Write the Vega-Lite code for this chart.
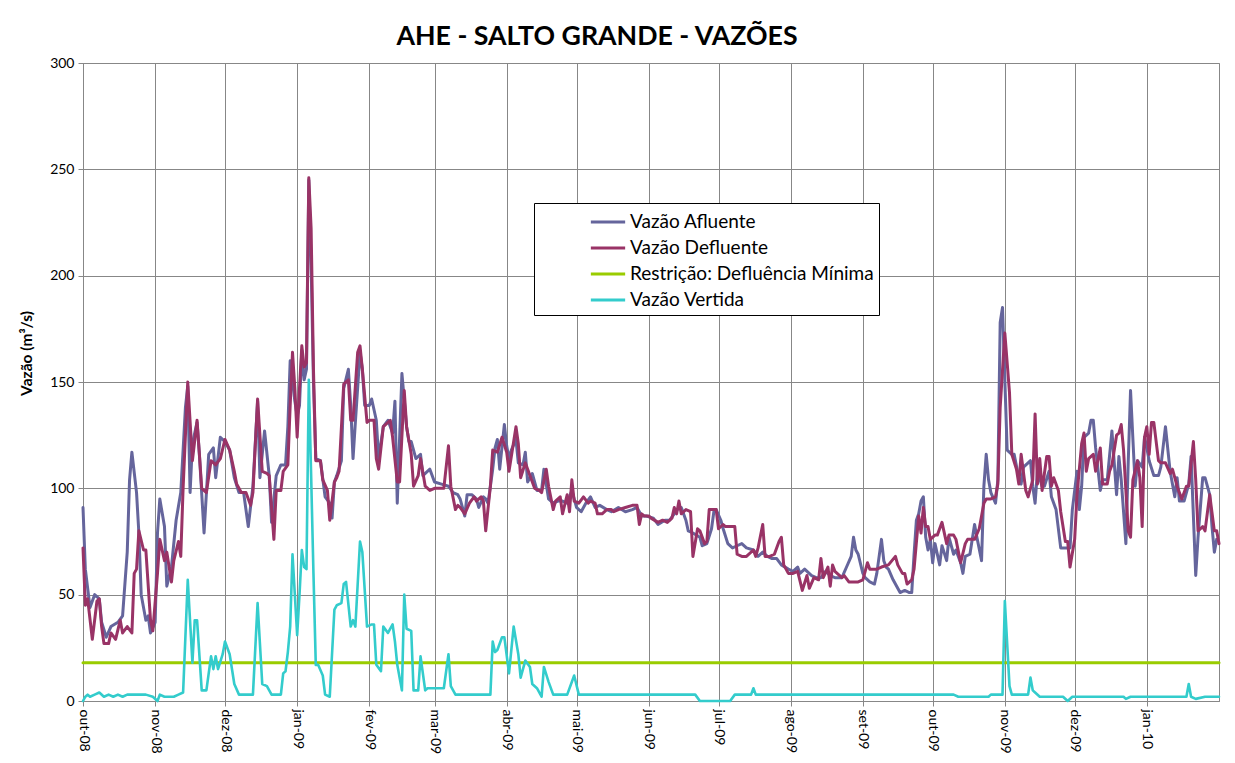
{
"$schema": "https://vega.github.io/schema/vega-lite/v6.json",
"width": 1136, "height": 638,
"autosize": {"type": "none"},
"padding": {"left": 83, "top": 63, "right": 16, "bottom": 62},
"background": "white",
"title": {"text": "AHE - SALTO GRANDE - VAZÕES", "font": "Lato", "fontSize": 26.7, "fontWeight": "bold", "color": "#000", "anchor": "middle", "dx": -54, "offset": 5},
"datasets": {
"rest": [{"d":"2008-10-01","v":18},{"d":"2010-02-01","v":18}],
"afl": [
{"d":"2008-10-01","v":91},{"d":"2008-10-02","v":62},{"d":"2008-10-04","v":44},{"d":"2008-10-06","v":50},{"d":"2008-10-08","v":48},{"d":"2008-10-09","v":37},{"d":"2008-10-11","v":30},{"d":"2008-10-13","v":35},{"d":"2008-10-16","v":37},{"d":"2008-10-18","v":40},{"d":"2008-10-20","v":70},{"d":"2008-10-21","v":104},{"d":"2008-10-22","v":117},{"d":"2008-10-24","v":98},{"d":"2008-10-25","v":79},{"d":"2008-10-26","v":50},{"d":"2008-10-28","v":38},{"d":"2008-10-29","v":40},{"d":"2008-10-30","v":32},
{"d":"2008-11-01","v":37},{"d":"2008-11-02","v":79},{"d":"2008-11-03","v":95},{"d":"2008-11-05","v":82},{"d":"2008-11-06","v":54},{"d":"2008-11-08","v":63},{"d":"2008-11-10","v":85},{"d":"2008-11-12","v":98},{"d":"2008-11-14","v":138},{"d":"2008-11-15","v":148},{"d":"2008-11-16","v":98},{"d":"2008-11-17","v":121},{"d":"2008-11-19","v":131},{"d":"2008-11-20","v":116},{"d":"2008-11-22","v":79},{"d":"2008-11-24","v":116},{"d":"2008-11-26","v":119},{"d":"2008-11-27","v":105},{"d":"2008-11-29","v":124},
{"d":"2008-12-01","v":122},{"d":"2008-12-03","v":118},{"d":"2008-12-05","v":105},{"d":"2008-12-07","v":98},{"d":"2008-12-09","v":98},{"d":"2008-12-11","v":82},{"d":"2008-12-13","v":101},{"d":"2008-12-15","v":141},{"d":"2008-12-16","v":105},{"d":"2008-12-18","v":127},{"d":"2008-12-20","v":106},{"d":"2008-12-21","v":84},{"d":"2008-12-23","v":106},{"d":"2008-12-25","v":111},{"d":"2008-12-27","v":111},{"d":"2008-12-28","v":129},{"d":"2008-12-29","v":160},{"d":"2008-12-31","v":141},
{"d":"2009-01-01","v":134},{"d":"2009-01-02","v":139},{"d":"2009-01-03","v":165},{"d":"2009-01-04","v":151},{"d":"2009-01-05","v":156},{"d":"2009-01-06","v":245},{"d":"2009-01-07","v":205},{"d":"2009-01-08","v":150},{"d":"2009-01-09","v":114},{"d":"2009-01-11","v":113},{"d":"2009-01-13","v":96},{"d":"2009-01-15","v":93},{"d":"2009-01-16","v":86},{"d":"2009-01-17","v":103},{"d":"2009-01-18","v":106},{"d":"2009-01-20","v":113},{"d":"2009-01-21","v":147},{"d":"2009-01-23","v":156},{"d":"2009-01-24","v":139},{"d":"2009-01-25","v":114},{"d":"2009-01-26","v":131},{"d":"2009-01-28","v":164},{"d":"2009-01-29","v":156},{"d":"2009-01-30","v":139},
{"d":"2009-02-01","v":139},{"d":"2009-02-02","v":142},{"d":"2009-02-04","v":132},{"d":"2009-02-05","v":114},{"d":"2009-02-07","v":129},{"d":"2009-02-09","v":132},{"d":"2009-02-11","v":126},{"d":"2009-02-12","v":141},{"d":"2009-02-13","v":93},{"d":"2009-02-15","v":154},{"d":"2009-02-17","v":129},{"d":"2009-02-18","v":122},{"d":"2009-02-19","v":122},{"d":"2009-02-21","v":114},{"d":"2009-02-23","v":116},{"d":"2009-02-24","v":106},{"d":"2009-02-27","v":109},
{"d":"2009-03-01","v":103},{"d":"2009-03-04","v":102},{"d":"2009-03-07","v":101},{"d":"2009-03-09","v":98},{"d":"2009-03-11","v":97},{"d":"2009-03-12","v":95},{"d":"2009-03-14","v":87},{"d":"2009-03-15","v":97},{"d":"2009-03-17","v":97},{"d":"2009-03-19","v":95},{"d":"2009-03-20","v":91},{"d":"2009-03-22","v":96},{"d":"2009-03-23","v":95},{"d":"2009-03-24","v":93},{"d":"2009-03-26","v":109},{"d":"2009-03-27","v":119},{"d":"2009-03-28","v":123},{"d":"2009-03-29","v":109},{"d":"2009-03-31","v":130},
{"d":"2009-04-01","v":120},{"d":"2009-04-02","v":114},{"d":"2009-04-03","v":118},{"d":"2009-04-05","v":123},{"d":"2009-04-06","v":112},{"d":"2009-04-08","v":111},{"d":"2009-04-09","v":117},{"d":"2009-04-10","v":103},{"d":"2009-04-12","v":107},{"d":"2009-04-14","v":99},{"d":"2009-04-16","v":99},{"d":"2009-04-17","v":109},{"d":"2009-04-19","v":95},{"d":"2009-04-21","v":93},{"d":"2009-04-23","v":94},{"d":"2009-04-25","v":94},{"d":"2009-04-27","v":93},{"d":"2009-04-29","v":99},
{"d":"2009-05-01","v":91},{"d":"2009-05-03","v":89},{"d":"2009-05-05","v":93},{"d":"2009-05-07","v":96},{"d":"2009-05-09","v":91},{"d":"2009-05-11","v":92},{"d":"2009-05-14","v":90},{"d":"2009-05-16","v":89},{"d":"2009-05-19","v":91},{"d":"2009-05-22","v":89},{"d":"2009-05-25","v":90},{"d":"2009-05-27","v":91},{"d":"2009-05-29","v":87},{"d":"2009-05-31","v":87},
{"d":"2009-06-03","v":86},{"d":"2009-06-05","v":83},{"d":"2009-06-08","v":85},{"d":"2009-06-10","v":85},{"d":"2009-06-12","v":88},{"d":"2009-06-14","v":91},{"d":"2009-06-15","v":91},{"d":"2009-06-17","v":85},{"d":"2009-06-18","v":80},{"d":"2009-06-20","v":79},{"d":"2009-06-23","v":77},{"d":"2009-06-24","v":73},{"d":"2009-06-26","v":74},{"d":"2009-06-28","v":81},{"d":"2009-06-29","v":89},{"d":"2009-06-30","v":90},
{"d":"2009-07-02","v":85},{"d":"2009-07-03","v":81},{"d":"2009-07-05","v":74},{"d":"2009-07-07","v":72},{"d":"2009-07-09","v":73},{"d":"2009-07-11","v":74},{"d":"2009-07-13","v":72},{"d":"2009-07-16","v":71},{"d":"2009-07-18","v":68},{"d":"2009-07-20","v":70},{"d":"2009-07-22","v":68},{"d":"2009-07-24","v":67},{"d":"2009-07-26","v":67},{"d":"2009-07-28","v":64},{"d":"2009-07-31","v":62},
{"d":"2009-08-02","v":61},{"d":"2009-08-04","v":63},{"d":"2009-08-05","v":60},{"d":"2009-08-07","v":62},{"d":"2009-08-10","v":59},{"d":"2009-08-12","v":58},{"d":"2009-08-14","v":58},{"d":"2009-08-16","v":61},{"d":"2009-08-18","v":59},{"d":"2009-08-20","v":58},{"d":"2009-08-23","v":58},{"d":"2009-08-25","v":63},{"d":"2009-08-27","v":68},{"d":"2009-08-28","v":77},{"d":"2009-08-29","v":71},{"d":"2009-08-30","v":69},
{"d":"2009-09-01","v":60},{"d":"2009-09-02","v":58},{"d":"2009-09-04","v":56},{"d":"2009-09-06","v":55},{"d":"2009-09-07","v":60},{"d":"2009-09-09","v":76},{"d":"2009-09-10","v":66},{"d":"2009-09-11","v":63},{"d":"2009-09-12","v":62},{"d":"2009-09-14","v":57},{"d":"2009-09-15","v":55},{"d":"2009-09-17","v":51},{"d":"2009-09-19","v":52},{"d":"2009-09-21","v":51},{"d":"2009-09-22","v":51},{"d":"2009-09-23","v":69},{"d":"2009-09-24","v":85},{"d":"2009-09-25","v":88},{"d":"2009-09-26","v":94},{"d":"2009-09-27","v":96},{"d":"2009-09-28","v":77},{"d":"2009-09-29","v":71},{"d":"2009-09-30","v":76},
{"d":"2009-10-01","v":65},{"d":"2009-10-02","v":74},{"d":"2009-10-04","v":64},{"d":"2009-10-05","v":73},{"d":"2009-10-07","v":66},{"d":"2009-10-08","v":77},{"d":"2009-10-10","v":69},{"d":"2009-10-11","v":71},{"d":"2009-10-13","v":65},{"d":"2009-10-14","v":60},{"d":"2009-10-15","v":68},{"d":"2009-10-17","v":69},{"d":"2009-10-19","v":83},{"d":"2009-10-20","v":77},{"d":"2009-10-22","v":66},{"d":"2009-10-23","v":101},{"d":"2009-10-24","v":116},{"d":"2009-10-25","v":104},{"d":"2009-10-26","v":98},{"d":"2009-10-28","v":93},{"d":"2009-10-29","v":104},{"d":"2009-10-30","v":178},{"d":"2009-10-31","v":185},
{"d":"2009-11-01","v":151},{"d":"2009-11-02","v":118},{"d":"2009-11-04","v":116},{"d":"2009-11-05","v":116},{"d":"2009-11-07","v":105},{"d":"2009-11-08","v":102},{"d":"2009-11-09","v":110},{"d":"2009-11-11","v":112},{"d":"2009-11-12","v":113},{"d":"2009-11-13","v":101},{"d":"2009-11-14","v":93},{"d":"2009-11-15","v":108},{"d":"2009-11-17","v":101},{"d":"2009-11-18","v":101},{"d":"2009-11-20","v":108},{"d":"2009-11-21","v":96},{"d":"2009-11-23","v":90},{"d":"2009-11-25","v":72},{"d":"2009-11-27","v":72},{"d":"2009-11-29","v":72},{"d":"2009-11-30","v":90},
{"d":"2009-12-02","v":108},{"d":"2009-12-03","v":90},{"d":"2009-12-04","v":101},{"d":"2009-12-05","v":124},{"d":"2009-12-07","v":126},{"d":"2009-12-08","v":132},{"d":"2009-12-09","v":132},{"d":"2009-12-10","v":119},{"d":"2009-12-12","v":99},{"d":"2009-12-13","v":104},{"d":"2009-12-15","v":104},{"d":"2009-12-17","v":127},{"d":"2009-12-18","v":112},{"d":"2009-12-19","v":97},{"d":"2009-12-20","v":115},{"d":"2009-12-21","v":104},{"d":"2009-12-23","v":74},{"d":"2009-12-24","v":112},{"d":"2009-12-25","v":146},{"d":"2009-12-27","v":101},{"d":"2009-12-28","v":113},{"d":"2009-12-30","v":110},{"d":"2009-12-31","v":124},
{"d":"2010-01-01","v":119},{"d":"2010-01-02","v":113},{"d":"2010-01-04","v":106},{"d":"2010-01-06","v":106},{"d":"2010-01-07","v":110},{"d":"2010-01-09","v":129},{"d":"2010-01-11","v":108},{"d":"2010-01-13","v":96},{"d":"2010-01-14","v":105},{"d":"2010-01-15","v":94},{"d":"2010-01-17","v":94},{"d":"2010-01-19","v":102},{"d":"2010-01-20","v":115},{"d":"2010-01-22","v":59},{"d":"2010-01-23","v":77},{"d":"2010-01-25","v":105},{"d":"2010-01-26","v":105},{"d":"2010-01-28","v":97},{"d":"2010-01-29","v":82},{"d":"2010-01-30","v":70},{"d":"2010-01-31","v":76}
],
"def": [
{"d":"2008-10-01","v":72},{"d":"2008-10-02","v":45},{"d":"2008-10-03","v":48},{"d":"2008-10-05","v":29},{"d":"2008-10-07","v":47},{"d":"2008-10-08","v":48},{"d":"2008-10-09","v":35},{"d":"2008-10-10","v":27},{"d":"2008-10-12","v":27},{"d":"2008-10-13","v":32},{"d":"2008-10-15","v":29},{"d":"2008-10-17","v":38},{"d":"2008-10-18","v":32},{"d":"2008-10-20","v":35},{"d":"2008-10-22","v":32},{"d":"2008-10-23","v":60},{"d":"2008-10-24","v":62},{"d":"2008-10-25","v":80},{"d":"2008-10-27","v":71},{"d":"2008-10-28","v":71},{"d":"2008-10-30","v":38},{"d":"2008-10-31","v":33},
{"d":"2008-11-02","v":60},{"d":"2008-11-03","v":76},{"d":"2008-11-05","v":66},{"d":"2008-11-06","v":70},{"d":"2008-11-08","v":56},{"d":"2008-11-09","v":66},{"d":"2008-11-11","v":75},{"d":"2008-11-12","v":68},{"d":"2008-11-13","v":100},{"d":"2008-11-15","v":150},{"d":"2008-11-17","v":113},{"d":"2008-11-19","v":132},{"d":"2008-11-21","v":100},{"d":"2008-11-23","v":98},{"d":"2008-11-25","v":113},{"d":"2008-11-27","v":111},{"d":"2008-11-29","v":114},
{"d":"2008-12-01","v":123},{"d":"2008-12-03","v":118},{"d":"2008-12-05","v":108},{"d":"2008-12-06","v":102},{"d":"2008-12-08","v":98},{"d":"2008-12-10","v":98},{"d":"2008-12-12","v":92},{"d":"2008-12-13","v":98},{"d":"2008-12-15","v":142},{"d":"2008-12-17","v":108},{"d":"2008-12-19","v":107},{"d":"2008-12-20","v":106},{"d":"2008-12-22","v":76},{"d":"2008-12-23","v":99},{"d":"2008-12-25","v":99},{"d":"2008-12-26","v":108},{"d":"2008-12-28","v":111},{"d":"2008-12-29","v":139},{"d":"2008-12-30","v":164},{"d":"2008-12-31","v":147},
{"d":"2009-01-01","v":124},{"d":"2009-01-02","v":147},{"d":"2009-01-03","v":167},{"d":"2009-01-04","v":157},{"d":"2009-01-05","v":159},{"d":"2009-01-06","v":246},{"d":"2009-01-07","v":222},{"d":"2009-01-08","v":156},{"d":"2009-01-09","v":113},{"d":"2009-01-11","v":113},{"d":"2009-01-12","v":104},{"d":"2009-01-14","v":99},{"d":"2009-01-15","v":85},{"d":"2009-01-17","v":103},{"d":"2009-01-18","v":105},{"d":"2009-01-19","v":108},{"d":"2009-01-21","v":149},{"d":"2009-01-23","v":151},{"d":"2009-01-24","v":132},{"d":"2009-01-25","v":132},{"d":"2009-01-27","v":164},{"d":"2009-01-28","v":167},{"d":"2009-01-29","v":156},{"d":"2009-01-31","v":131},
{"d":"2009-02-01","v":132},{"d":"2009-02-03","v":132},{"d":"2009-02-04","v":114},{"d":"2009-02-05","v":109},{"d":"2009-02-07","v":129},{"d":"2009-02-09","v":131},{"d":"2009-02-10","v":132},{"d":"2009-02-11","v":124},{"d":"2009-02-13","v":103},{"d":"2009-02-14","v":103},{"d":"2009-02-16","v":146},{"d":"2009-02-17","v":129},{"d":"2009-02-19","v":116},{"d":"2009-02-20","v":101},{"d":"2009-02-22","v":106},{"d":"2009-02-23","v":114},{"d":"2009-02-25","v":101},{"d":"2009-02-27","v":99},
{"d":"2009-03-01","v":100},{"d":"2009-03-04","v":100},{"d":"2009-03-05","v":100},{"d":"2009-03-07","v":120},{"d":"2009-03-08","v":101},{"d":"2009-03-10","v":90},{"d":"2009-03-11","v":92},{"d":"2009-03-12","v":91},{"d":"2009-03-14","v":88},{"d":"2009-03-16","v":93},{"d":"2009-03-18","v":96},{"d":"2009-03-19","v":94},{"d":"2009-03-21","v":96},{"d":"2009-03-22","v":94},{"d":"2009-03-23","v":80},{"d":"2009-03-25","v":101},{"d":"2009-03-26","v":118},{"d":"2009-03-28","v":117},{"d":"2009-03-30","v":124},
{"d":"2009-04-01","v":117},{"d":"2009-04-02","v":108},{"d":"2009-04-05","v":129},{"d":"2009-04-06","v":121},{"d":"2009-04-07","v":105},{"d":"2009-04-09","v":112},{"d":"2009-04-11","v":106},{"d":"2009-04-13","v":100},{"d":"2009-04-15","v":99},{"d":"2009-04-16","v":98},{"d":"2009-04-18","v":109},{"d":"2009-04-19","v":101},{"d":"2009-04-21","v":90},{"d":"2009-04-22","v":94},{"d":"2009-04-24","v":96},{"d":"2009-04-25","v":88},{"d":"2009-04-27","v":97},{"d":"2009-04-28","v":89},{"d":"2009-04-29","v":104},{"d":"2009-04-30","v":94},
{"d":"2009-05-02","v":93},{"d":"2009-05-04","v":96},{"d":"2009-05-06","v":93},{"d":"2009-05-07","v":94},{"d":"2009-05-09","v":93},{"d":"2009-05-10","v":88},{"d":"2009-05-12","v":88},{"d":"2009-05-14","v":90},{"d":"2009-05-16","v":90},{"d":"2009-05-17","v":89},{"d":"2009-05-19","v":90},{"d":"2009-05-22","v":91},{"d":"2009-05-25","v":92},{"d":"2009-05-27","v":92},{"d":"2009-05-28","v":83},{"d":"2009-05-29","v":88},{"d":"2009-05-30","v":87},
{"d":"2009-06-01","v":87},{"d":"2009-06-02","v":86},{"d":"2009-06-05","v":84},{"d":"2009-06-07","v":85},{"d":"2009-06-09","v":84},{"d":"2009-06-11","v":86},{"d":"2009-06-12","v":91},{"d":"2009-06-13","v":88},{"d":"2009-06-14","v":94},{"d":"2009-06-15","v":88},{"d":"2009-06-17","v":90},{"d":"2009-06-19","v":89},{"d":"2009-06-20","v":68},{"d":"2009-06-22","v":81},{"d":"2009-06-23","v":80},{"d":"2009-06-25","v":74},{"d":"2009-06-26","v":75},{"d":"2009-06-27","v":90},{"d":"2009-06-30","v":90},
{"d":"2009-07-01","v":81},{"d":"2009-07-03","v":83},{"d":"2009-07-04","v":82},{"d":"2009-07-06","v":82},{"d":"2009-07-08","v":82},{"d":"2009-07-09","v":69},{"d":"2009-07-11","v":68},{"d":"2009-07-13","v":68},{"d":"2009-07-16","v":71},{"d":"2009-07-17","v":68},{"d":"2009-07-18","v":72},{"d":"2009-07-20","v":83},{"d":"2009-07-21","v":68},{"d":"2009-07-23","v":68},{"d":"2009-07-25","v":69},{"d":"2009-07-27","v":75},{"d":"2009-07-28","v":77},{"d":"2009-07-29","v":64},{"d":"2009-07-31","v":60},
{"d":"2009-08-02","v":60},{"d":"2009-08-04","v":61},{"d":"2009-08-06","v":52},{"d":"2009-08-08","v":59},{"d":"2009-08-09","v":53},{"d":"2009-08-11","v":58},{"d":"2009-08-13","v":57},{"d":"2009-08-14","v":67},{"d":"2009-08-15","v":58},{"d":"2009-08-17","v":63},{"d":"2009-08-18","v":54},{"d":"2009-08-19","v":64},{"d":"2009-08-20","v":61},{"d":"2009-08-23","v":58},{"d":"2009-08-24","v":59},{"d":"2009-08-26","v":56},{"d":"2009-08-28","v":56},{"d":"2009-08-30","v":56},
{"d":"2009-09-01","v":57},{"d":"2009-09-03","v":65},{"d":"2009-09-04","v":62},{"d":"2009-09-07","v":62},{"d":"2009-09-09","v":63},{"d":"2009-09-12","v":64},{"d":"2009-09-15","v":68},{"d":"2009-09-16","v":64},{"d":"2009-09-18","v":60},{"d":"2009-09-19","v":60},{"d":"2009-09-20","v":55},{"d":"2009-09-22","v":57},{"d":"2009-09-23","v":62},{"d":"2009-09-25","v":87},{"d":"2009-09-26","v":79},{"d":"2009-09-27","v":91},{"d":"2009-09-28","v":82},{"d":"2009-09-29","v":82},{"d":"2009-09-30","v":76},
{"d":"2009-10-02","v":78},{"d":"2009-10-03","v":78},{"d":"2009-10-05","v":84},{"d":"2009-10-07","v":74},{"d":"2009-10-08","v":78},{"d":"2009-10-10","v":78},{"d":"2009-10-11","v":76},{"d":"2009-10-13","v":65},{"d":"2009-10-15","v":74},{"d":"2009-10-16","v":76},{"d":"2009-10-18","v":76},{"d":"2009-10-19","v":76},{"d":"2009-10-21","v":81},{"d":"2009-10-23","v":93},{"d":"2009-10-24","v":95},{"d":"2009-10-26","v":95},{"d":"2009-10-28","v":96},{"d":"2009-10-29","v":102},{"d":"2009-10-30","v":138},
{"d":"2009-11-01","v":173},{"d":"2009-11-03","v":145},{"d":"2009-11-04","v":116},{"d":"2009-11-06","v":109},{"d":"2009-11-07","v":102},{"d":"2009-11-08","v":116},{"d":"2009-11-10","v":99},{"d":"2009-11-11","v":96},{"d":"2009-11-13","v":104},{"d":"2009-11-14","v":135},{"d":"2009-11-15","v":102},{"d":"2009-11-16","v":114},{"d":"2009-11-17","v":99},{"d":"2009-11-19","v":115},{"d":"2009-11-20","v":115},{"d":"2009-11-21","v":101},{"d":"2009-11-22","v":105},{"d":"2009-11-24","v":99},{"d":"2009-11-25","v":89},{"d":"2009-11-27","v":75},{"d":"2009-11-28","v":75},{"d":"2009-11-29","v":63},
{"d":"2009-12-01","v":76},{"d":"2009-12-02","v":97},{"d":"2009-12-04","v":121},{"d":"2009-12-05","v":126},{"d":"2009-12-06","v":108},{"d":"2009-12-07","v":114},{"d":"2009-12-09","v":116},{"d":"2009-12-10","v":108},{"d":"2009-12-12","v":119},{"d":"2009-12-13","v":102},{"d":"2009-12-15","v":102},{"d":"2009-12-16","v":108},{"d":"2009-12-17","v":111},{"d":"2009-12-19","v":125},{"d":"2009-12-20","v":126},{"d":"2009-12-21","v":130},{"d":"2009-12-22","v":118},{"d":"2009-12-24","v":80},{"d":"2009-12-25","v":77},{"d":"2009-12-26","v":104},{"d":"2009-12-28","v":113},{"d":"2009-12-29","v":105},{"d":"2009-12-30","v":82},{"d":"2009-12-31","v":124},
{"d":"2010-01-01","v":129},{"d":"2010-01-02","v":116},{"d":"2010-01-03","v":131},{"d":"2010-01-04","v":131},{"d":"2010-01-06","v":113},{"d":"2010-01-07","v":112},{"d":"2010-01-09","v":112},{"d":"2010-01-11","v":107},{"d":"2010-01-12","v":109},{"d":"2010-01-14","v":101},{"d":"2010-01-16","v":95},{"d":"2010-01-18","v":101},{"d":"2010-01-19","v":101},{"d":"2010-01-21","v":122},{"d":"2010-01-22","v":104},{"d":"2010-01-23","v":80},{"d":"2010-01-25","v":82},{"d":"2010-01-26","v":80},{"d":"2010-01-28","v":97},{"d":"2010-01-30","v":80},{"d":"2010-01-31","v":80},{"d":"2010-02-01","v":74}
],
"vert": [
{"d":"2008-10-01","v":0},{"d":"2008-10-02","v":2},{"d":"2008-10-03","v":3},{"d":"2008-10-04","v":2},{"d":"2008-10-06","v":3},{"d":"2008-10-08","v":4},{"d":"2008-10-10","v":2},{"d":"2008-10-12","v":3},{"d":"2008-10-14","v":2},{"d":"2008-10-16","v":3},{"d":"2008-10-18","v":2},{"d":"2008-10-20","v":3},{"d":"2008-10-24","v":3},{"d":"2008-10-28","v":3},{"d":"2008-10-31","v":2},
{"d":"2008-11-02","v":0},{"d":"2008-11-03","v":3},{"d":"2008-11-05","v":2},{"d":"2008-11-09","v":2},{"d":"2008-11-11","v":3},{"d":"2008-11-13","v":4},{"d":"2008-11-15","v":57},{"d":"2008-11-17","v":18},{"d":"2008-11-18","v":38},{"d":"2008-11-19","v":38},{"d":"2008-11-21","v":5},{"d":"2008-11-23","v":5},{"d":"2008-11-25","v":21},{"d":"2008-11-26","v":15},{"d":"2008-11-27","v":21},{"d":"2008-11-28","v":15},{"d":"2008-11-30","v":22},
{"d":"2008-12-01","v":28},{"d":"2008-12-03","v":22},{"d":"2008-12-05","v":8},{"d":"2008-12-07","v":3},{"d":"2008-12-13","v":3},{"d":"2008-12-15","v":46},{"d":"2008-12-17","v":8},{"d":"2008-12-19","v":7},{"d":"2008-12-21","v":3},{"d":"2008-12-25","v":3},{"d":"2008-12-26","v":13},{"d":"2008-12-27","v":14},{"d":"2008-12-28","v":23},{"d":"2008-12-29","v":35},{"d":"2008-12-30","v":69},
{"d":"2009-01-01","v":31},{"d":"2009-01-02","v":50},{"d":"2009-01-03","v":71},{"d":"2009-01-04","v":63},{"d":"2009-01-05","v":62},{"d":"2009-01-06","v":151},{"d":"2009-01-07","v":106},{"d":"2009-01-08","v":60},{"d":"2009-01-09","v":17},{"d":"2009-01-10","v":17},{"d":"2009-01-12","v":12},{"d":"2009-01-13","v":3},{"d":"2009-01-15","v":2},{"d":"2009-01-17","v":43},{"d":"2009-01-18","v":45},{"d":"2009-01-20","v":46},{"d":"2009-01-21","v":55},{"d":"2009-01-22","v":56},{"d":"2009-01-24","v":35},{"d":"2009-01-25","v":38},{"d":"2009-01-26","v":35},{"d":"2009-01-27","v":55},{"d":"2009-01-28","v":75},{"d":"2009-01-29","v":70},{"d":"2009-01-31","v":35},
{"d":"2009-02-02","v":36},{"d":"2009-02-03","v":36},{"d":"2009-02-04","v":17},{"d":"2009-02-06","v":14},{"d":"2009-02-07","v":35},{"d":"2009-02-09","v":32},{"d":"2009-02-11","v":36},{"d":"2009-02-12","v":28},{"d":"2009-02-13","v":17},{"d":"2009-02-15","v":5},{"d":"2009-02-16","v":50},{"d":"2009-02-17","v":34},{"d":"2009-02-19","v":33},{"d":"2009-02-20","v":5},{"d":"2009-02-22","v":5},{"d":"2009-02-23","v":21},{"d":"2009-02-25","v":5},{"d":"2009-02-26","v":6},
{"d":"2009-03-05","v":6},{"d":"2009-03-07","v":22},{"d":"2009-03-08","v":7},{"d":"2009-03-10","v":3},{"d":"2009-03-25","v":3},{"d":"2009-03-26","v":28},{"d":"2009-03-27","v":23},{"d":"2009-03-28","v":24},{"d":"2009-03-30","v":30},{"d":"2009-03-31","v":30},
{"d":"2009-04-02","v":13},{"d":"2009-04-04","v":35},{"d":"2009-04-06","v":22},{"d":"2009-04-07","v":11},{"d":"2009-04-09","v":19},{"d":"2009-04-11","v":16},{"d":"2009-04-12","v":8},{"d":"2009-04-14","v":6},{"d":"2009-04-16","v":2},{"d":"2009-04-17","v":16},{"d":"2009-04-19","v":9},{"d":"2009-04-21","v":3},{"d":"2009-04-27","v":3},{"d":"2009-04-30","v":12},
{"d":"2009-05-02","v":3},{"d":"2009-06-21","v":3},{"d":"2009-06-23","v":0},{"d":"2009-07-06","v":0},{"d":"2009-07-08","v":3},{"d":"2009-07-15","v":3},{"d":"2009-07-16","v":6},{"d":"2009-07-17","v":3},
{"d":"2009-10-10","v":3},{"d":"2009-10-12","v":2},{"d":"2009-10-25","v":2},{"d":"2009-10-26","v":3},{"d":"2009-10-31","v":3},{"d":"2009-11-01","v":47},{"d":"2009-11-03","v":7},{"d":"2009-11-04","v":3},{"d":"2009-11-11","v":3},{"d":"2009-11-12","v":11},{"d":"2009-11-13","v":5},{"d":"2009-11-14","v":4},{"d":"2009-11-16","v":2},{"d":"2009-11-26","v":2},{"d":"2009-11-28","v":0},{"d":"2009-11-30","v":2},
{"d":"2009-12-22","v":2},{"d":"2009-12-23","v":1},{"d":"2009-12-25","v":2},{"d":"2010-01-18","v":2},{"d":"2010-01-19","v":8},{"d":"2010-01-20","v":2},{"d":"2010-01-22","v":1},{"d":"2010-01-26","v":2},{"d":"2010-02-01","v":2}
]
},
"encoding": {
  "x": {"field": "d", "type": "temporal",
    "scale": {"type": "utc", "domain": [{"year": 2008, "month": 10, "date": 1, "utc": true}, {"year": 2010, "month": 2, "date": 1, "utc": true}]},
    "axis": {"title": null,
      "values": [
        {"year": 2008, "month": 10, "date": 1, "utc": true}, {"year": 2008, "month": 11, "date": 1, "utc": true}, {"year": 2008, "month": 12, "date": 1, "utc": true},
        {"year": 2009, "month": 1, "date": 1, "utc": true}, {"year": 2009, "month": 2, "date": 1, "utc": true}, {"year": 2009, "month": 3, "date": 1, "utc": true},
        {"year": 2009, "month": 4, "date": 1, "utc": true}, {"year": 2009, "month": 5, "date": 1, "utc": true}, {"year": 2009, "month": 6, "date": 1, "utc": true},
        {"year": 2009, "month": 7, "date": 1, "utc": true}, {"year": 2009, "month": 8, "date": 1, "utc": true}, {"year": 2009, "month": 9, "date": 1, "utc": true},
        {"year": 2009, "month": 10, "date": 1, "utc": true}, {"year": 2009, "month": 11, "date": 1, "utc": true}, {"year": 2009, "month": 12, "date": 1, "utc": true},
        {"year": 2010, "month": 1, "date": 1, "utc": true}],
      "labelExpr": "['jan','fev','mar','abr','mai','jun','jul','ago','set','out','nov','dez'][utcmonth(datum.value)] + '-' + utcFormat(datum.value, '%y')"}},
  "y": {"field": "v", "type": "quantitative",
    "scale": {"domain": [0, 300], "nice": false},
    "axis": {"values": [0, 50, 100, 150, 200, 250, 300], "title": "Vazão (m³/s)", "titleY": 290}}
},
"layer": [
  {"data": {"name": "rest"}, "mark": {"type": "line", "strokeWidth": 3},
   "encoding": {"color": {"datum": "Restrição: Defluência Mínima", "type": "nominal",
     "legend": {"title": null, "titleOrient": "right", "titlePadding": 50, "labelExpr": "datum.label + '\u00a0\u00a0\u00a0\u00a0\u00a0\u00a0\u00a0\u00a0\u00a0\u00a0\u00a0\u00a0\u00a0\u00a0'"}}}},
  {"data": {"name": "vert"}, "mark": {"type": "line", "strokeWidth": 2.6},
   "encoding": {"color": {"datum": "Vazão Vertida", "type": "nominal",
     "legend": {"title": null, "labelExpr": "datum.label + '\u00a0\u00a0\u00a0\u00a0\u00a0\u00a0\u00a0\u00a0\u00a0\u00a0\u00a0\u00a0\u00a0\u00a0'"}}}},
  {"data": {"name": "afl"}, "mark": {"type": "line", "strokeWidth": 3},
   "encoding": {"color": {"datum": "Vazão Afluente", "type": "nominal",
     "scale": {"domain": ["Vazão Afluente", "Vazão Defluente", "Restrição: Defluência Mínima", "Vazão Vertida"], "range": ["#65659c", "#993366", "#99cc00", "#33cccc"]},
     "legend": {"title": null, "labelExpr": "datum.label + '\u00a0\u00a0\u00a0\u00a0\u00a0\u00a0\u00a0\u00a0\u00a0\u00a0\u00a0\u00a0\u00a0\u00a0'"}}}},
  {"data": {"name": "def"}, "mark": {"type": "line", "strokeWidth": 3},
   "encoding": {"color": {"datum": "Vazão Defluente", "type": "nominal",
     "legend": {"title": null, "labelExpr": "datum.label + '\u00a0\u00a0\u00a0\u00a0\u00a0\u00a0\u00a0\u00a0\u00a0\u00a0\u00a0\u00a0\u00a0\u00a0'"}}}}
],
"config": {
  "font": "Lato",
  "view": {"stroke": "#878787", "strokeWidth": 1},
  "line": {"strokeJoin": "round", "strokeCap": "round"},
  "axis": {"grid": true, "gridColor": "#878787", "gridWidth": 1, "domainColor": "#878787", "tickColor": "#878787", "tickSize": 5, "labelColor": "#000", "labelFont": "Lato", "labelFontSize": 14, "titleFont": "Lato", "titleColor": "#000"},
  "axisX": {"labelAngle": 90, "labelPadding": 3},
  "axisY": {"labelPadding": 4, "titleFontSize": 15.5, "titleFontWeight": "bold", "titlePadding": 15},
  "legend": {"orient": "none", "legendX": 451, "legendY": 140,
    "strokeColor": "#000", "fillColor": "#fff", "padding": 5,
    "symbolType": "M-1.4,0H1.4", "symbolSize": 600, "symbolStrokeWidth": 3, "symbolOffset": 55,
    "labelFont": "Lato", "labelFontSize": 19, "labelColor": "#000", "labelOffset": 8, "rowPadding": 2, "labelLimit": 500}
}
}
